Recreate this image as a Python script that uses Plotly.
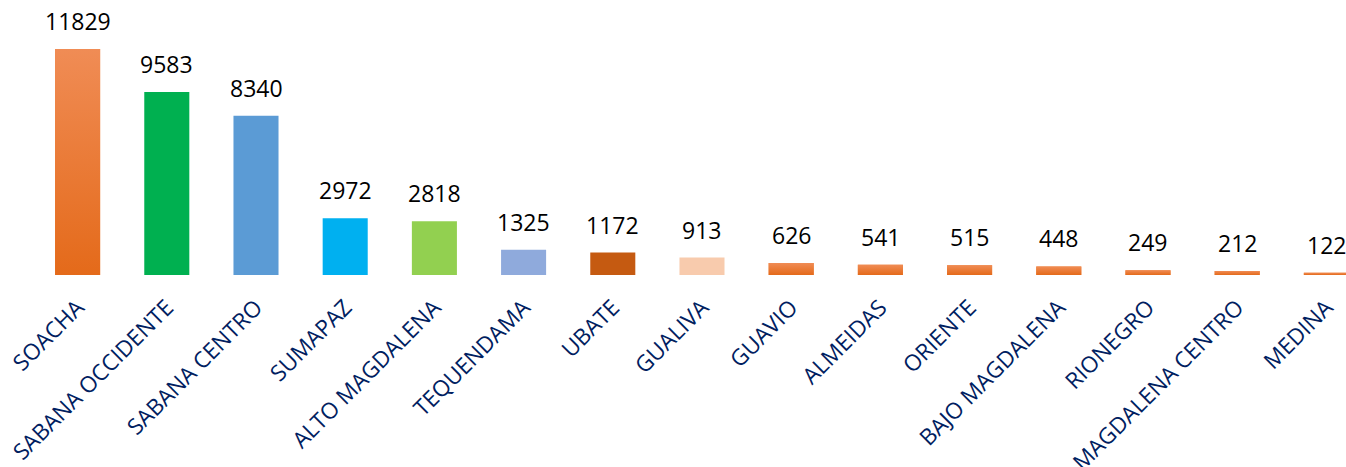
import plotly.graph_objects as go

provincias = ['SOACHA', 'SABANA OCCIDENTE', 'SABANA CENTRO', 'SUMAPAZ',
              'ALTO MAGDALENA', 'TEQUENDAMA', 'UBATE', 'GUALIVA', 'GUAVIO',
              'ALMEIDAS', 'ORIENTE', 'BAJO MAGDALENA', 'RIONEGRO',
              'MAGDALENA CENTRO', 'MEDINA']
casos = [11829, 9583, 8340, 2972, 2818, 1325, 1172, 913, 626,
         541, 515, 448, 249, 212, 122]
colores = ['#EC7B30', '#00B050', '#5B9BD5', '#00B0F0', '#92D050',
           '#8FAADC', '#C55A11', '#F8CBAD', '#EE7E32', '#EE7E32',
           '#EE7E32', '#EE7E32', '#EE7E32', '#EE7E32', '#EE7E32']
# barras naranjas con degradado (oscuro abajo, claro arriba)
degradado = [True, False, False, False, False, False, False, False,
             True, True, True, True, True, True, True]

ANCHO = 0.505
pos = list(range(len(provincias)))

fig = go.Figure(go.Bar(
    x=pos,
    y=casos,
    width=ANCHO,
    marker=dict(color=colores, line=dict(width=0)),
))

for i, v in enumerate(casos):
    if degradado[i]:
        x0, x1 = i - ANCHO / 2, i + ANCHO / 2
        fig.add_trace(go.Scatter(
            x=[x0, x1, x1, x0, x0], y=[0, 0, v, v, 0],
            mode='lines', line=dict(width=0), fill='toself',
            fillgradient=dict(type='vertical',
                              colorscale=[[0, '#E46A1A'], [1, '#F08C55']]),
            hoverinfo='skip',
        ))
    # etiqueta de valor sobre cada barra
    fig.add_annotation(x=i, y=v, text=str(v), showarrow=False,
                       yanchor='bottom', yshift=10,
                       font=dict(family='Open Sans', size=23, color='#000000'))

fig.update_layout(
    width=1346, height=467,
    margin=dict(l=33, r=0, t=10, b=192),
    paper_bgcolor='white', plot_bgcolor='white',
    showlegend=False,
)
fig.update_xaxes(
    range=[-0.5, 14.22],
    tickmode='array', tickvals=pos, ticktext=provincias,
    tickangle=-45,
    tickfont=dict(family='Open Sans', size=22.5, color='#002060'),
    showline=False, showgrid=False, zeroline=False, ticks='',
    ticklabelstandoff=14,
    automargin=False,
)
fig.update_yaxes(range=[0, 13870], visible=False, automargin=False)

# sin margen en el body para que la figura ocupe toda la ventana
fig.write_html('out.html', config={'displayModeBar': False},
               post_script='document.body.style.margin="0";')
